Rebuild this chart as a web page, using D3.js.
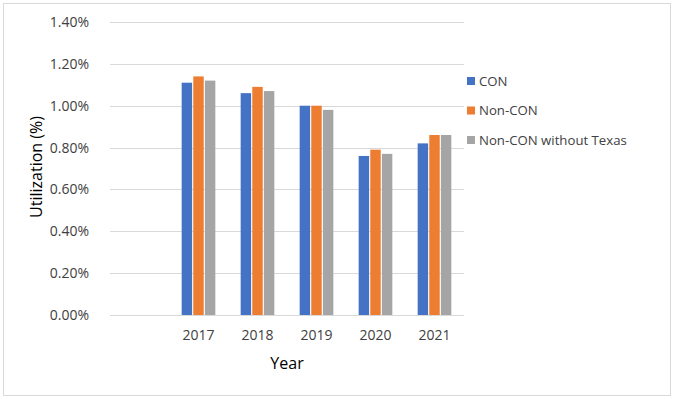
<!DOCTYPE html>
<html>
<head>
<meta charset="utf-8">
<script src="https://cdn.jsdelivr.net/npm/d3@7"></script>
<style>
  body { margin: 0; background: #fff; }
  text { font-family: "Open Sans", "Noto Sans", sans-serif; }
</style>
</head>
<body>
<div id="chart"></div>
<script>
const years = ["", "2017", "2018", "2019", "2020", "2021"];
const seriesNames = ["CON", "Non-CON", "Non-CON without Texas"];
const conValues = [null, 1.11, 1.06, 1.00, 0.76, 0.82];
const nonConValues = [null, 1.14, 1.09, 1.00, 0.79, 0.86];
const nonConNoTexasValues = [null, 1.12, 1.07, 0.98, 0.77, 0.86];
const yTicks = [0, 0.2, 0.4, 0.6, 0.8, 1.0, 1.2, 1.4];
const colors = ["#4472C4", "#ED7D31", "#A5A5A5"];

function createBarChart(selector = "#chart") {
    const width = 674;
    const height = 399;
    const margin = { top: 22, right: 210, bottom: 84, left: 110 };

    const svg = d3.select(selector)
        .html("")
        .append("svg")
        .attr("width", width)
        .attr("height", height);

    svg.append("rect")
        .attr("x", 3.5)
        .attr("y", 3.5)
        .attr("width", 667)
        .attr("height", 392)
        .attr("fill", "#fff")
        .attr("stroke", "#D9D9D9");

    const allSeries = [conValues, nonConValues, nonConNoTexasValues];
    const rows = years.map((yr, i) => ({
        year: yr,
        values: allSeries.map((s, j) => ({ name: seriesNames[j], value: s[i], idx: j }))
    }));

    const x = d3.scaleBand()
        .domain(years)
        .range([margin.left, width - margin.right])
        .paddingInner(0.39)
        .paddingOuter(0.195);

    const xSub = d3.scaleBand()
        .domain(seriesNames)
        .range([0, x.bandwidth()])
        .padding(0.1);

    const y = d3.scaleLinear()
        .domain([0, 1.4])
        .range([height - margin.bottom, margin.top]);

    // gridlines
    svg.append("g")
        .selectAll("line")
        .data(yTicks)
        .join("line")
        .attr("x1", margin.left)
        .attr("x2", width - margin.right)
        .attr("y1", d => Math.round(y(d)) + 0.5)
        .attr("y2", d => Math.round(y(d)) + 0.5)
        .attr("stroke", "#D9D9D9");

    const yAxis = svg.append("g")
        .attr("transform", `translate(${margin.left - 18},0)`)
        .call(d3.axisLeft(y).tickValues(yTicks).tickSize(0).tickFormat(d => d.toFixed(2) + "%"));
    yAxis.select(".domain").remove();
    yAxis.selectAll("text")
        .attr("fill", "#404040")
        .style("font-size", "14px");

    svg.append("g")
        .selectAll("g")
        .data(rows)
        .join("g")
        .attr("transform", d => `translate(${x(d.year)},0)`)
        .selectAll("rect")
        .data(d => d.values.filter(v => v.value != null))
        .join("rect")
        .attr("x", d => xSub(d.name))
        .attr("width", xSub.bandwidth())
        .attr("y", d => y(d.value))
        .attr("height", d => y(0) - y(d.value))
        .attr("fill", d => colors[d.idx]);

    const xAxis = svg.append("g")
        .attr("transform", `translate(0,${height - margin.bottom + 12})`)
        .call(d3.axisBottom(x).tickSize(0));
    xAxis.select(".domain").remove();
    xAxis.selectAll("text")
        .attr("fill", "#404040")
        .style("font-size", "14px");

    svg.append("text")
        .attr("x", (margin.left + width - margin.right) / 2)
        .attr("y", 369)
        .attr("text-anchor", "middle")
        .attr("fill", "#000")
        .style("font-size", "16px")
        .text("Year");

    svg.append("text")
        .attr("transform", "rotate(-90)")
        .attr("x", -167)
        .attr("y", 42)
        .attr("text-anchor", "middle")
        .attr("fill", "#000")
        .style("font-size", "16px")
        .text("Utilization (%)");

    const legend = svg.append("g")
        .attr("transform", "translate(467, 81)");

    const items = legend.selectAll("g")
        .data(seriesNames)
        .join("g")
        .attr("transform", (d, i) => `translate(0,${i * 29.5})`);

    items.append("rect")
        .attr("x", 0)
        .attr("y", -4)
        .attr("width", 8)
        .attr("height", 8)
        .attr("fill", (d, i) => colors[i]);

    items.append("text")
        .attr("x", 12)
        .attr("y", 0)
        .attr("dy", "0.35em")
        .attr("fill", "#404040")
        .style("font-size", "13.2px")
        .text(d => d);
}

createBarChart();
</script>
</body>
</html>
